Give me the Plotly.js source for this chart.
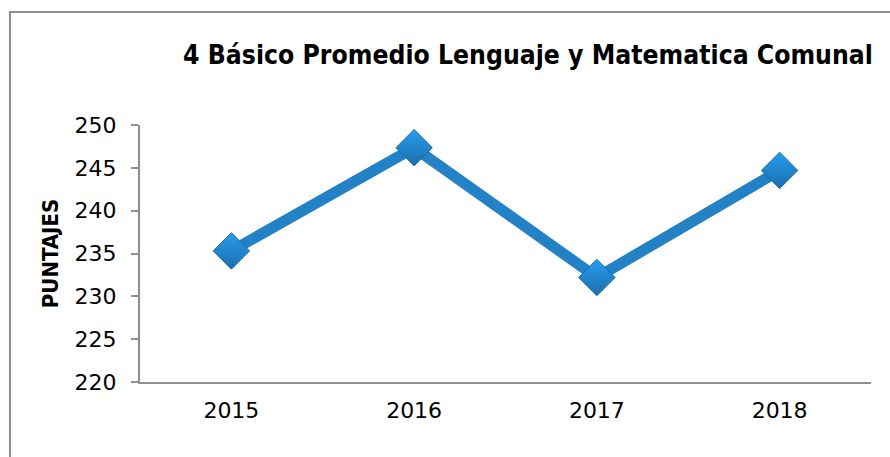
<!DOCTYPE html>
<html>
<head>
<meta charset="utf-8">
<script src="https://cdn.plot.ly/plotly-3.0.1.min.js"></script>
<style>
html,body{margin:0;padding:0;background:#fff;overflow:hidden;}
#wrap{position:relative;width:890px;height:457px;}
#chart{position:absolute;left:0;top:0;width:890px;height:457px;}
#frame{position:absolute;left:9px;top:11px;width:1000px;height:600px;border:2px solid #8f8f8f;pointer-events:none;box-sizing:border-box;}
</style>
</head>
<body>
<div id="wrap">
<div id="chart"></div>
<div id="frame"></div>
</div>
<script>
const years = ['2015', '2016', '2017', '2018'];
const puntajes = [235.3, 247.35, 232.2, 244.7];
const yTicks = [220, 225, 230, 235, 240, 245, 250];
const chartTitle = '4 Básico Promedio Lenguaje y Matematica Comunal';
const yTitle = 'PUNTAJES';

const trace = {
  x: years,
  y: puntajes,
  type: 'scatter',
  mode: 'lines+markers',
  line: {color: '#2282c5', width: 11},
  marker: {
    symbol: 'diamond',
    size: 28,
    color: '#2a9cec',
    gradient: {type: 'vertical', color: '#1a6fae'},
    line: {color: '#1c6aa6', width: 1}
  },
  hoverinfo: 'skip'
};

const layout = {
  width: 890,
  height: 457,
  margin: {l: 140, r: 19, t: 125, b: 75},
  paper_bgcolor: '#ffffff',
  plot_bgcolor: '#ffffff',
  showlegend: false,
  title: {
    text: chartTitle,
    font: {family: 'DejaVu Sans Condensed, DejaVu Sans', size: 26.3, color: '#000', weight: 'bold'},
    x: 528 / 890,
    xanchor: 'center',
    y: 1 - 55 / 457,
    yanchor: 'middle'
  },
  xaxis: {
    type: 'category',
    range: [-0.5, 3.5],
    showgrid: false,
    zeroline: false,
    showline: true,
    linecolor: '#8f8f8f',
    linewidth: 2,
    ticks: '',
    tickfont: {family: 'DejaVu Sans', size: 22, color: '#000'},
    ticklabelstandoff: 8
  },
  yaxis: {
    range: [220, 250],
    tickvals: yTicks,
    showgrid: false,
    zeroline: false,
    showline: true,
    linecolor: '#8f8f8f',
    linewidth: 2,
    ticks: 'outside',
    ticklen: 7,
    tickwidth: 2,
    tickcolor: '#8f8f8f',
    tickfont: {family: 'DejaVu Sans', size: 22, color: '#000'},
    ticklabelstandoff: 10,
    title: {
      text: yTitle,
      font: {family: 'DejaVu Sans Condensed, DejaVu Sans', size: 22, color: '#000', weight: 'bold'},
      standoff: 10
    }
  }
};

Plotly.newPlot('chart', [trace], layout, {staticPlot: true, displayModeBar: false});
</script>
</body>
</html>
